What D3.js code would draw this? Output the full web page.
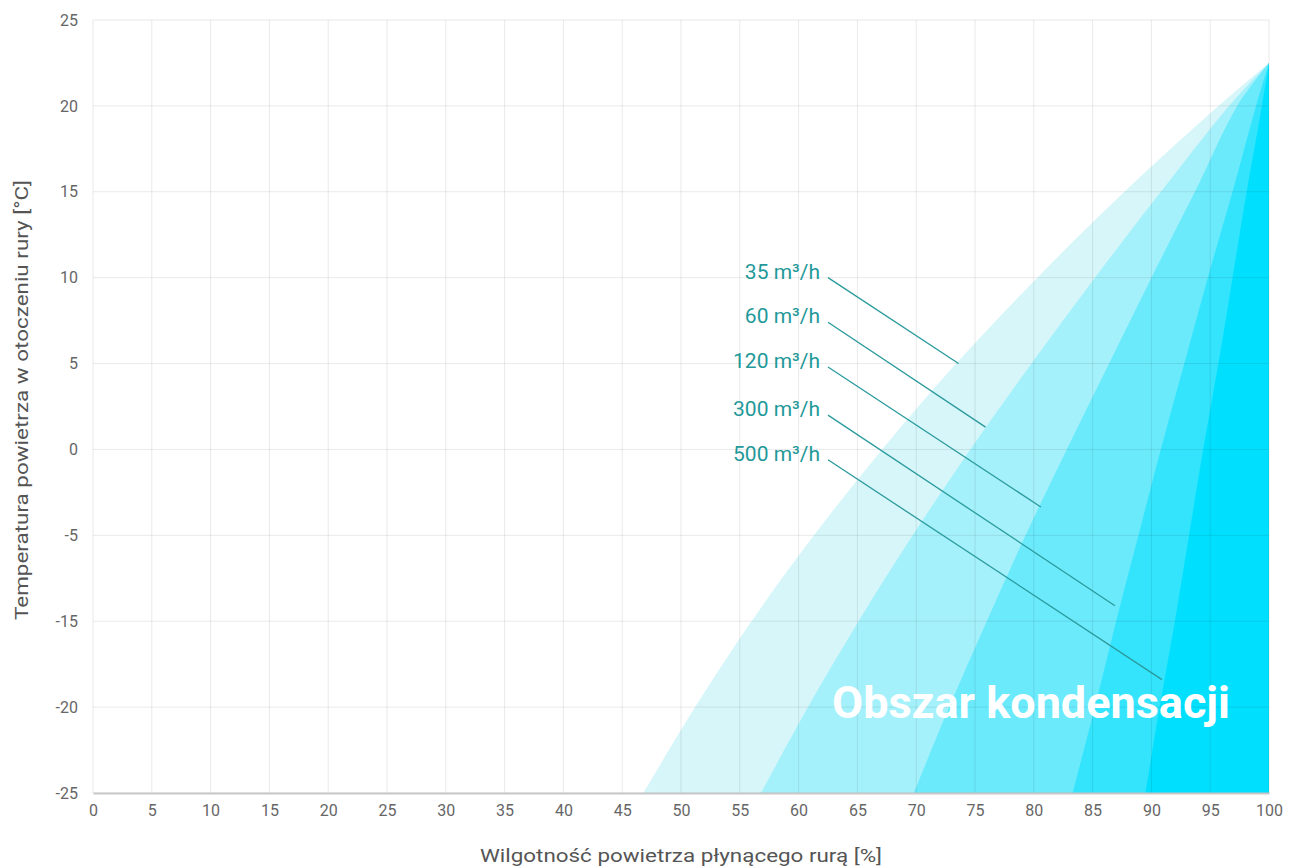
<!DOCTYPE html>
<html><head><meta charset="utf-8">
<script src="https://cdn.jsdelivr.net/npm/d3@7"></script>
<style>body{margin:0;background:#fff}svg{display:block}</style>
</head><body>
<svg id="chart" width="1289" height="868"></svg>
<script>
// X ticks (humidity %)
const xTicks = [0,5,10,15,20,25,30,35,40,45,50,55,60,65,70,75,80,85,90,95,100];
// Y ticks: axis step values and the labels as printed on the chart
const yTickValues = [25,20,15,10,5,0,-5,-10,-15,-20];
const yTickLabels = ["25","20","15","10","5","0","-5","-15","-20","-25"];

// Boundary curves [humidity %, axis value]
const curve35  = [[46.8,-20],[51.2,-15],[56.0,-10],[61.3,-5],[67.1,0],[73.4,5],[80.3,10],[87.7,15],[95.7,20],[100,22.5]];
const curve60  = [[56.8,-20],[60.8,-15],[65.1,-10],[69.7,-5],[74.6,0],[79.8,5],[85.2,10],[90.8,15],[96.6,20],[100,22.5]];
const curve120 = [[69.8,-20],[72.8,-15],[76.0,-10],[79.3,-5],[82.8,0],[86.4,5],[90.0,10],[93.7,15],[97.3,20],[100,22.5]];
const curve300 = [[83.3,-20],[85.2,-15],[87.0,-10],[88.9,-5],[90.8,0],[92.8,5],[94.8,10],[96.9,15],[98.9,20],[100,22.5]];
const curve500 = [[89.5,-20],[90.7,-15],[92.0,-10],[93.2,-5],[94.4,0],[95.7,5],[96.9,10],[98.1,15],[99.4,20],[100,22.5]];

const seriesNames = ["35 m³/h","60 m³/h","120 m³/h","300 m³/h","500 m³/h"];
const seriesColors = ["#d7f6fa","#a5f1fb","#6beafc","#33e4fc","#00e0fe"];
// leader lines: label anchor [x,y] and target on curve [x,y]
const labelAnchors = [[62.5,10.0],[62.5,7.4],[62.5,4.8],[62.5,2.0],[62.5,-0.6]];
const labelTargets = [[73.6,5.0],[75.9,1.3],[80.6,-3.35],[86.9,-9.1],[90.9,-13.4]];

const curves = [curve35, curve60, curve120, curve300, curve500];

const svg = d3.select("#chart");
const W = 1289, H = 868;
const m = {left:93, right:20, top:20, bottom:75};
const x = d3.scaleLinear().domain([0,100]).range([m.left, W - m.right]);
const y = d3.scaleLinear().domain([-20,25]).range([H - m.bottom, m.top]);

// fills
const line = d3.line().x(d=>x(d[0])).y(d=>y(d[1])).curve(d3.curveCatmullRom.alpha(0.5));
curves.forEach((c,i)=>{
  const p = line(c) + "L" + x(100) + "," + y(-20) + "Z";
  svg.append("path").attr("d", p).attr("fill", seriesColors[i]);
});

// grid
const g = svg.append("g");
g.selectAll("line.v").data(xTicks).join("line")
  .attr("x1",d=>x(d)).attr("x2",d=>x(d)).attr("y1",y(25)).attr("y2",y(-20))
  .attr("stroke","rgba(0,0,0,0.085)").attr("stroke-width",1);
g.selectAll("line.h").data(yTickValues).join("line")
  .attr("x1",x(0)).attr("x2",x(100)).attr("y1",d=>y(d)).attr("y2",d=>y(d))
  .attr("stroke","rgba(0,0,0,0.085)").attr("stroke-width",1);

// axes
const xAxis = d3.axisBottom(x).tickValues(xTicks).tickSize(0).tickPadding(12).tickFormat(d3.format("d"));
const xg = svg.append("g").attr("transform",`translate(0,${y(-20)})`).call(xAxis);
xg.select(".domain").attr("stroke","#c8c8c8").attr("stroke-width",2);
xg.selectAll("text").attr("font-family","Roboto, sans-serif").attr("font-size",16).attr("fill","#666");

const yAxis = d3.axisLeft(y).tickValues(yTickValues).tickSize(0).tickPadding(15)
  .tickFormat((d,i)=>yTickLabels[i]);
const yg = svg.append("g").attr("transform",`translate(${x(0)},0)`).call(yAxis);
yg.select(".domain").remove();
yg.selectAll("text").attr("font-family","Roboto, sans-serif").attr("font-size",16).attr("fill","#666");

// axis titles
svg.append("text").attr("x",681).attr("y",862).attr("text-anchor","middle")
  .attr("font-family","Roboto, sans-serif").attr("font-size",19).attr("fill","#555")
  .attr("textLength",402).attr("lengthAdjust","spacingAndGlyphs")
  .text("Wilgotność powietrza płynącego rurą [%]");
svg.append("text").attr("transform","translate(28,400) rotate(-90)").attr("text-anchor","middle")
  .attr("font-family","Roboto, sans-serif").attr("font-size",19).attr("fill","#555")
  .attr("textLength",440).attr("lengthAdjust","spacingAndGlyphs")
  .text("Temperatura powietrza w otoczeniu rury [°C]");

// labels + leaders
seriesNames.forEach((n,i)=>{
  const a = labelAnchors[i], t = labelTargets[i];
  svg.append("line").attr("x1",x(a[0])).attr("y1",y(a[1])).attr("x2",x(t[0])).attr("y2",y(t[1]))
    .attr("stroke","#2a9a9c").attr("stroke-width",1.3);
  svg.append("text").attr("x",x(a[0])-8).attr("y",y(a[1])+1).attr("text-anchor","end")
    .attr("font-family","Roboto, sans-serif").attr("font-size",21).attr("fill","#1f9999")
    .text(n);
});

// region label
svg.append("text").attr("x",1230).attr("y",718).attr("text-anchor","end")
  .attr("font-family","Roboto, sans-serif").attr("font-weight","bold").attr("font-size",45)
  .attr("fill","#fff").text("Obszar kondensacji");
</script>
</body></html>
